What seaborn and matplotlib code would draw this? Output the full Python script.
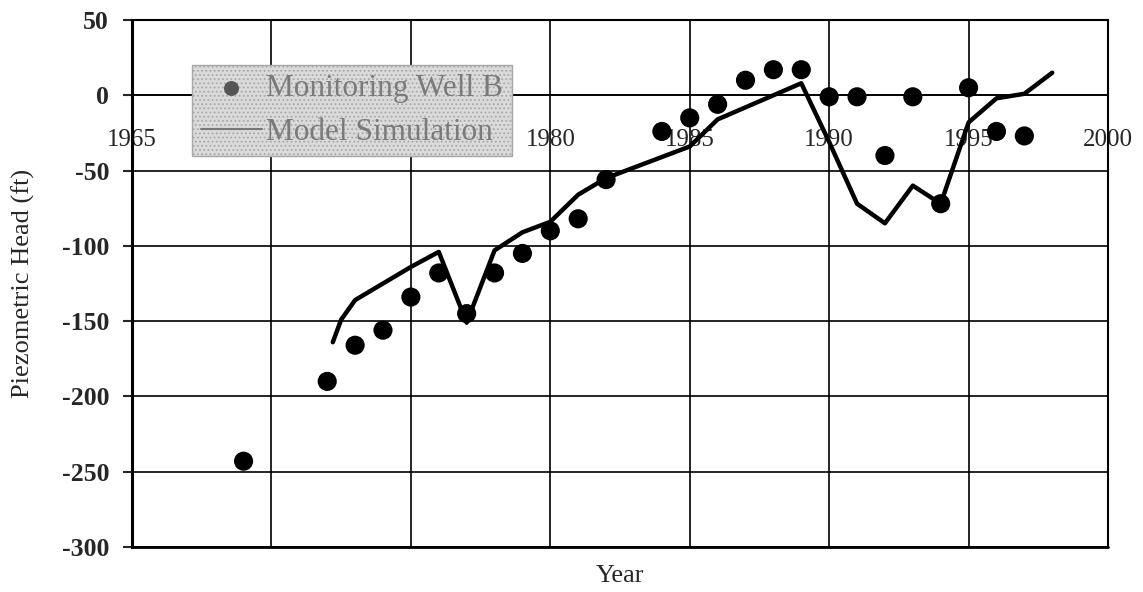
import matplotlib
matplotlib.use("Agg")
import matplotlib.pyplot as plt
import seaborn as sns
import pandas as pd
import numpy as np

# 관측정 B 실측값 (ft)
well_years = [1969, 1972, 1973, 1974, 1975, 1976, 1977, 1978, 1979, 1980, 1981, 1982,
              1984, 1985, 1986, 1987, 1988, 1989, 1990, 1991, 1992, 1993, 1994, 1995,
              1996, 1997]
well_head = [-243, -190, -166, -156, -134, -118, -145, -118, -105, -90, -82, -56,
             -24, -15, -6, 10, 17, 17, -1, -1, -40, -1, -72, 5, -24, -27]

# 모델 시뮬레이션 결과 (ft)
model_years = [1972.2, 1972.5, 1973, 1974, 1975, 1976, 1977, 1978, 1979, 1980, 1981,
               1982, 1983, 1984, 1985, 1986, 1987, 1988, 1989, 1990, 1991, 1992, 1993,
               1994, 1995, 1996, 1997, 1998]
model_head = [-164, -149, -136, -125, -114, -104, -151, -103, -91, -84, -66,
              -55, -48, -41, -34, -16, -8, 0, 8, -31, -72, -85, -60,
              -72, -18, -2, 1, 15]

x_ticks = [1965, 1970, 1975, 1980, 1985, 1990, 1995, 2000]
# 1970, 1975 라벨은 범례에 가려져 보이지 않음
x_tick_labels = ["1965", "", "", "1980", "1985", "1990", "1995", "2000"]
y_ticks = [-300, -250, -200, -150, -100, -50, 0, 50]


def set_config():
    sns.set_style("white")
    plt.rcParams["font.family"] = ["Liberation Serif", "DejaVu Serif"]
    plt.rcParams["axes.unicode_minus"] = False
    plt.rcParams["hatch.linewidth"] = 0.8


def show_head_graph():
    well = pd.DataFrame({"year": well_years, "head": well_head})
    model = pd.DataFrame({"year": model_years, "head": model_head})

    fig, ax = plt.subplots(figsize=(11.43, 5.92), dpi=100)
    fig.subplots_adjust(left=0.1155, right=0.9694, top=0.9662, bottom=0.076)

    sns.scatterplot(x="year", y="head", data=well, ax=ax, s=190, color="black",
                    edgecolor="none", label="Monitoring Well B", zorder=4)
    sns.lineplot(x="year", y="head", data=model, ax=ax, color="black", lw=3.2,
                 label="Model Simulation", zorder=3)

    ax.set_xlim(1965, 2000)
    ax.set_ylim(-300, 50)
    ax.set_xticks(x_ticks)
    ax.set_xticklabels(x_tick_labels)
    ax.set_yticks(y_ticks)
    ax.grid(True, color="black", lw=1.2)
    ax.set_axisbelow(True)

    # x축은 0에서 교차
    ax.spines["bottom"].set_position(("data", 0))
    ax.spines["bottom"].set_linewidth(1.2)
    ax.spines["left"].set_linewidth(2.2)
    ax.spines["top"].set_linewidth(1.5)
    ax.spines["right"].set_linewidth(1.5)
    for s in ax.spines.values():
        s.set_color("black")
    ax.axhline(-300, color="black", lw=2, clip_on=False, zorder=2)

    ax.tick_params(axis="x", length=0, pad=24, labelsize=18)
    ax.tick_params(axis="y", direction="out", length=6.5, width=1.5, pad=10, labelsize=18.5)
    ax.tick_params(axis="y", left=True)
    for lbl in ax.get_yticklabels():
        lbl.set_fontweight("bold")

    ax.set_xlabel("Year", fontsize=19)
    ax.set_ylabel("Piezometric Head (ft)", fontsize=19)
    ax.xaxis.set_label_coords(0.5, -0.035)
    ax.yaxis.set_label_coords(-0.099, 0.5)

    leg = ax.legend(loc="upper left", bbox_to_anchor=(0.0615, 0.9146), borderaxespad=0,
                    fontsize=22.5, frameon=True, fancybox=False, framealpha=1,
                    facecolor="#dadada", edgecolor="#a8a8a8", handlelength=1.95,
                    handletextpad=0.15, borderpad=0.28, labelspacing=0.5,
                    markerscale=0.7)
    leg.set_zorder(6)
    leg.get_frame().set_hatch("....")
    for t in leg.get_texts():
        t.set_color("#7a7a7a")
    h_well, h_model = leg.legend_handles
    h_well.set_color("#555555")
    h_model.set_color("#777777")
    h_model.set_linewidth(1.5)

    plt.savefig("out.png", dpi=100)


def main():
    set_config()
    show_head_graph()


if __name__ == "__main__":
    main()
